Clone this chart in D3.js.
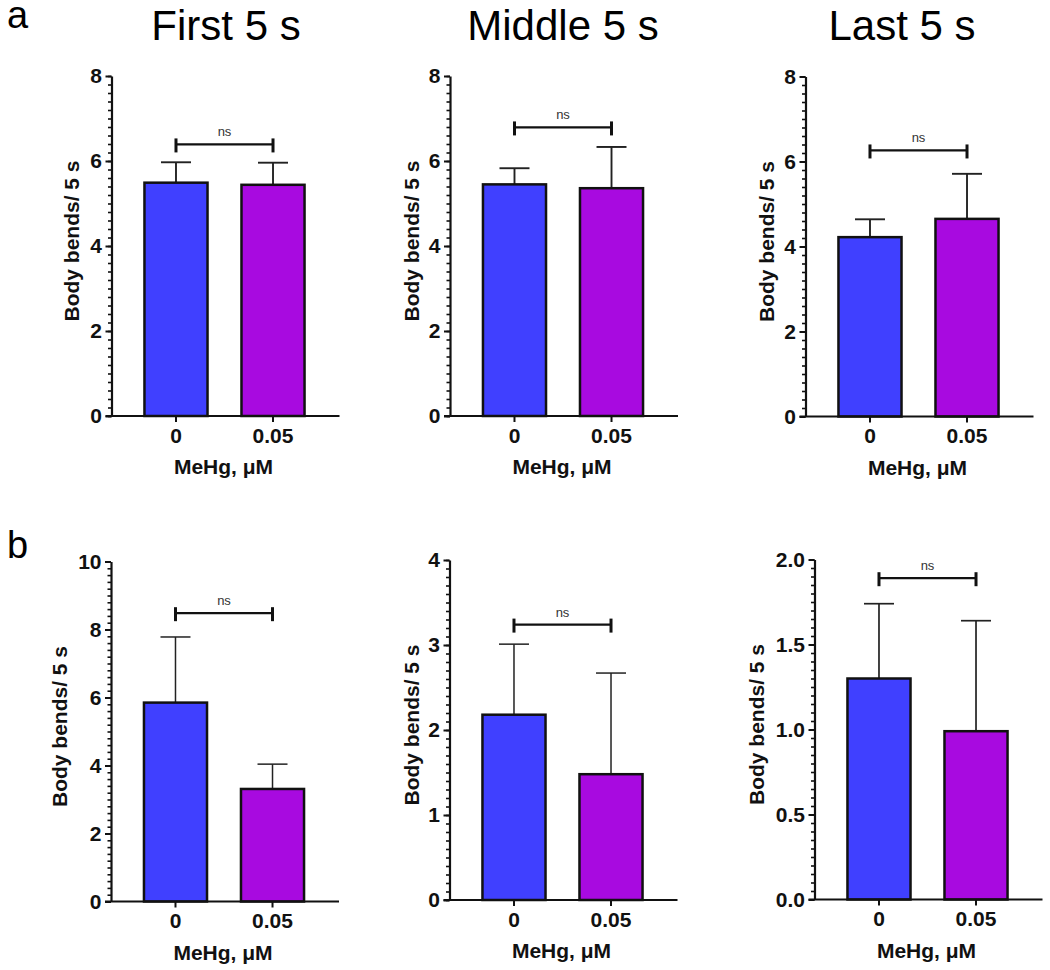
<!DOCTYPE html>
<html>
<head>
<meta charset="utf-8">
<script src="https://cdn.jsdelivr.net/npm/d3@7"></script>
<style>
  html, body { margin: 0; padding: 0; background: #fff; }
  text { font-family: "Liberation Sans", Arial, sans-serif; }
</style>
</head>
<body>
<svg id="chart" width="1050" height="970"></svg>
<script>
// ---------- data ----------
const categories = ["0", "0.05"];
const panelTitles = ["First 5 s", "Middle 5 s", "Last 5 s"];
const rowLetters = ["a", "b"];
const yAxisTitle = "Body bends/ 5 s";
const xAxisTitle = "MeHg, \u03BCM";
const sigLabel = "ns";

// mean values (bar heights)
const meansA1 = [5.49, 5.44];
const meansA2 = [5.45, 5.36];
const meansA3 = [4.22, 4.65];
const meansB1 = [5.85, 3.31];
const meansB2 = [2.18, 1.48];
const meansB3 = [1.30, 0.99];
// upper error (SD) values
const errA1 = [0.48, 0.52];
const errA2 = [0.38, 0.97];
const errA3 = [0.42, 1.06];
const errB1 = [1.93, 0.73];
const errB2 = [0.83, 1.19];
const errB3 = [0.44, 0.65];
// significance bracket level
const bracketLevels = [6.39, 6.79, 6.26, 8.48, 3.24, 1.89];
// y axis maxima and tick steps
const yMax = [8, 8, 8, 10, 4, 2];
const yMajorStep = [2, 2, 2, 2, 1, 0.5];
const yMinorStep = [0.2, 0.2, 0.2, 0.2, 0.1, 0.05];
const yTickFormats = ["d", "d", "d", "d", "d", ".1f"];

const allMeans = [meansA1, meansA2, meansA3, meansB1, meansB2, meansB3];
const allErrs = [errA1, errA2, errA3, errB1, errB2, errB3];

// ---------- layout ----------
const colors = ["#4040FF", "#A80AE0"];
const plotW = 228, plotH = 340;
const layout = [
  { x: 111.5, y: 76,  labelOff: 40, ew: 1.9 },
  { x: 450,   y: 76,  labelOff: 38, ew: 1.9 },
  { x: 805.5, y: 76.5, labelOff: 38.5, ew: 1.9 },
  { x: 111,   y: 561.5, labelOff: 51, ew: 1.5 },
  { x: 449.5, y: 560, labelOff: 37.5, ew: 1.5 },
  { x: 814.5, y: 559.5, labelOff: 57.5, ew: 1.7 }
];
const titlePos = [226, 563, 902];

const svg = d3.select("#chart");

// row letters
svg.selectAll("text.letter").data(rowLetters).join("text")
  .attr("class", "letter")
  .attr("x", 7)
  .attr("y", (d, i) => i === 0 ? 28 : 558)
  .attr("font-size", 38)
  .attr("fill", "#000")
  .text(d => d);

// column titles
svg.selectAll("text.ptitle").data(panelTitles).join("text")
  .attr("class", "ptitle")
  .attr("x", (d, i) => titlePos[i])
  .attr("y", 40)
  .attr("text-anchor", "middle")
  .attr("font-size", 42)
  .attr("fill", "#000")
  .text(d => d);

allMeans.forEach((means, p) => {
  const L = layout[p];
  const g = svg.append("g").attr("transform", `translate(${L.x},${L.y})`);
  const errs = allErrs[p];

  const x = d3.scaleBand().domain(categories).range([-1, plotW - 1]).padding(0.35);
  const y = d3.scaleLinear().domain([0, yMax[p]]).range([plotH, 0]);

  const data = categories.map((c, i) => ({ cat: c, mean: means[i], err: errs[i], color: colors[i] }));

  // error bars (drawn first, under bar outline)
  const eg = g.append("g");
  eg.selectAll("line.ev").data(data).join("line")
    .attr("x1", d => x(d.cat) + x.bandwidth() / 2)
    .attr("x2", d => x(d.cat) + x.bandwidth() / 2)
    .attr("y1", d => y(d.mean))
    .attr("y2", d => y(d.mean + d.err))
    .attr("stroke", "#222").attr("stroke-width", L.ew);
  eg.selectAll("line.ec").data(data).join("line")
    .attr("x1", d => x(d.cat) + x.bandwidth() / 2 - 15)
    .attr("x2", d => x(d.cat) + x.bandwidth() / 2 + 15)
    .attr("y1", d => y(d.mean + d.err))
    .attr("y2", d => y(d.mean + d.err))
    .attr("stroke", "#222").attr("stroke-width", L.ew);

  // bars
  g.selectAll("rect.bar").data(data).join("rect")
    .attr("class", "bar")
    .attr("x", d => x(d.cat))
    .attr("width", x.bandwidth())
    .attr("y", d => y(d.mean))
    .attr("height", d => plotH - y(d.mean))
    .attr("fill", d => d.color)
    .attr("stroke", "#111")
    .attr("stroke-width", 2.5);

  // y axis: minor ticks
  const minorVals = d3.range(0, yMax[p] + 1e-9, yMinorStep[p]);
  g.append("g")
    .call(d3.axisLeft(y).tickValues(minorVals).tickSize(3.5).tickFormat(""))
    .call(a => a.select(".domain").remove())
    .call(a => a.selectAll("line").attr("stroke", "#111").attr("stroke-width", 1.6));
  // y axis: major
  const majorVals = d3.range(0, yMax[p] + 1e-9, yMajorStep[p]);
  g.append("g")
    .call(d3.axisLeft(y).tickValues(majorVals).tickSize(6).tickPadding(3.5).tickFormat(d3.format(yTickFormats[p])).tickSizeOuter(0))
    .call(a => a.select(".domain").attr("stroke", "#111").attr("stroke-width", 2.2))
    .call(a => a.selectAll(".tick line").attr("stroke", "#111").attr("stroke-width", 2))
    .call(a => a.selectAll("text").attr("font-size", 21).attr("font-weight", "bold")
      .attr("fill", "#111").attr("font-family", "Liberation Sans, Arial, sans-serif"));

  // x axis
  const xa = g.append("g").attr("transform", `translate(0,${plotH})`)
    .call(d3.axisBottom(x).tickSize(6).tickPadding(6).tickSizeOuter(0))
    .call(a => a.select(".domain").remove())
    .call(a => a.selectAll(".tick line").attr("stroke", "#111").attr("stroke-width", 2))
    .call(a => a.selectAll("text").attr("font-size", 21).attr("font-weight", "bold")
      .attr("fill", "#111").attr("font-family", "Liberation Sans, Arial, sans-serif"));
  xa.append("line").attr("x1", -6).attr("x2", plotW).attr("y1", 0).attr("y2", 0)
    .attr("stroke", "#111").attr("stroke-width", 2.2);

  // x axis title
  g.append("text")
    .attr("x", plotW / 2 - 2).attr("y", plotH + 58)
    .attr("text-anchor", "middle")
    .attr("font-size", 21).attr("font-weight", "bold").attr("fill", "#111")
    .text(xAxisTitle);

  // y axis title
  g.append("text")
    .attr("transform", `translate(${-L.labelOff},${plotH / 2 - 5}) rotate(-90)`)
    .attr("text-anchor", "middle")
    .attr("dy", "0.35em")
    .attr("font-size", 21).attr("font-weight", "bold").attr("fill", "#111")
    .text(yAxisTitle);

  // significance bracket
  const bx1 = x(categories[0]) + x.bandwidth() / 2;
  const bx2 = x(categories[1]) + x.bandwidth() / 2;
  const by = y(bracketLevels[p]);
  const bg = g.append("g");
  bg.append("line").attr("x1", bx1).attr("x2", bx2).attr("y1", by).attr("y2", by)
    .attr("stroke", "#111").attr("stroke-width", 2.2);
  [bx1, bx2].forEach(bx => {
    bg.append("line").attr("x1", bx).attr("x2", bx).attr("y1", by - 6).attr("y2", by + 8)
      .attr("stroke", "#111").attr("stroke-width", 3);
  });
  bg.append("text")
    .attr("x", (bx1 + bx2) / 2).attr("y", by - 8)
    .attr("text-anchor", "middle")
    .attr("font-size", 13).attr("fill", "#333")
    .text(sigLabel);
});
</script>
</body>
</html>
